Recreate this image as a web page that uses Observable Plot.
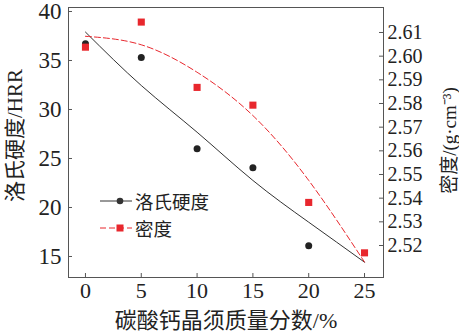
<!DOCTYPE html>
<html><head><meta charset="utf-8">
<script src="https://cdn.jsdelivr.net/npm/d3@7"></script>
<script src="https://cdn.jsdelivr.net/npm/@observablehq/plot@0.6"></script>
<style>
body{margin:0;background:#fff;}
#wrap{position:relative;width:459px;height:335px;overflow:hidden;}
.lg{position:absolute;left:100px;height:22px;display:flex;align-items:center;font-family:"Noto Sans CJK SC",sans-serif;font-size:18.5px;line-height:22px;color:#222;}
.lg svg{display:block;margin-right:3px;}
.lg span{display:block;height:22px;line-height:22px;}
</style></head><body><div id="wrap"></div>
<script>
// ---- data ----
const mass = [0, 5, 10, 15, 20, 25];
const hardMass = [0, 5, 10, 15, 20];
const hardness = [36.7, 35.3, 26.0, 24.05, 16.1];
const density = [2.6038, 2.6144, 2.5868, 2.5793, 2.5382, 2.5169];
const hardFit = [37.9, 32.45, 27.68, 22.76, 18.5, 14.42];
const densFit = [2.6084, 2.6048, 2.5932, 2.5749, 2.5475, 2.513];
const hardTicks = [15, 20, 25, 30, 35, 40];
const densTicks = [2.52, 2.53, 2.54, 2.55, 2.56, 2.57, 2.58, 2.59, 2.60, 2.61];
const xTicks = [0, 5, 10, 15, 20, 25];
const labels = {x: "碳酸钙晶须质量分数/%", yLeft: "洛氏硬度/HRR", yRight: "密度/(g·cm⁻³)", s1: "洛氏硬度", s2: "密度"};

// ---- layout ----
const W = 459, H = 335, mL = 68, mR = 76, mT = 7, mB = 58;
const innerW = W - mL - mR, innerH = H - mT - mB;
const hDom = [12.857, 40.408];
const dDom = [2.50648, 2.62056];
const toH = d => hDom[0] + (d - dDom[0]) / (dDom[1] - dDom[0]) * (hDom[1] - hDom[0]);
const fromH = h => dDom[0] + (h - hDom[0]) / (hDom[1] - hDom[0]) * (dDom[1] - dDom[0]);

const RED = "#e8272d", BLK = "#222", AX = "#555";
const serif = "'Liberation Serif','Noto Sans CJK SC',serif";

const hardRows = hardMass.map((m, i) => ({m, v: hardness[i]}));
const densRows = mass.map((m, i) => ({m, v: toH(density[i])}));
const fitRows = mass.map((m, i) => ({m, h: hardFit[i], d: toH(densFit[i])}));

const chart = Plot.plot({
  width: W, height: H,
  marginLeft: mL, marginRight: mR, marginTop: mT, marginBottom: mB,
  style: {fontFamily: serif, background: "#fff", color: "#222"},
  x: {domain: [-1.52, 26.7]},
  y: {domain: hDom},
  marks: [
    Plot.frame({stroke: AX}),
    Plot.axisY(hardTicks, {tickSize: 0, tickPadding: 7, fontSize: 23, label: null}),
    Plot.axisY(densTicks.map(toH), {anchor: "right", tickSize: 0, tickPadding: 4, fontSize: 20, label: null,
      tickFormat: h => fromH(h).toFixed(2)}),
    Plot.axisX(xTicks, {tickSize: 0, tickPadding: 5, fontSize: 22, label: null}),
    Plot.tickY(hardTicks, {stroke: AX, insetRight: innerW - 4}),
    Plot.tickY(densTicks.map(toH), {stroke: AX, insetLeft: innerW - 4}),
    Plot.tickX(xTicks, {stroke: AX, insetTop: innerH - 4}),
    Plot.text([labels.yLeft], {frameAnchor: "left", textAnchor: "middle", lineAnchor: "middle", rotate: -90, dx: -53, dy: -7, fontSize: 21, fontFamily: serif, fill: "#222"}),
    Plot.text([labels.yRight], {frameAnchor: "right", textAnchor: "middle", lineAnchor: "middle", rotate: -90, dx: 66, dy: -2, fontSize: 19, fontFamily: serif, fill: "#222"}),
    Plot.text([labels.x], {frameAnchor: "bottom", textAnchor: "middle", lineAnchor: "middle", dy: 43, fontSize: 22, fontFamily: serif, fill: "#222"}),
    Plot.line(fitRows, {x: "m", y: "h", curve: "natural", stroke: "#333", strokeWidth: 1}),
    Plot.line(fitRows, {x: "m", y: "d", curve: "natural", stroke: RED, strokeWidth: 1, strokeDasharray: "6,3"}),
    Plot.dot(hardRows, {x: "m", y: "v", r: 3.5, fill: BLK}),
    Plot.dot(densRows, {x: "m", y: "v", symbol: "square", r: 4, fill: RED})
  ]
});
const wrap = document.getElementById("wrap");
wrap.appendChild(chart);

function legendRow(top, color, marker, text, dash) {
  const div = document.createElement("div");
  div.className = "lg";
  div.style.top = top + "px";
  const m = marker === "circle"
    ? `<circle cx="20" cy="11" r="3.3" fill="${color}"/>`
    : `<rect x="16.5" y="7.5" width="7" height="7" fill="${color}"/>`;
  div.innerHTML = `<svg width="32" height="22"><line x1="0" x2="32" y1="11" y2="11" stroke="${color}" stroke-width="1" ${dash ? 'stroke-dasharray="6,3"' : ''}/>${m}</svg><span>${text}</span>`;
  wrap.appendChild(div);
}
legendRow(190, "#333", "circle", labels.s1, false);
legendRow(217, RED, "square", labels.s2, true);
</script>
</body></html>
